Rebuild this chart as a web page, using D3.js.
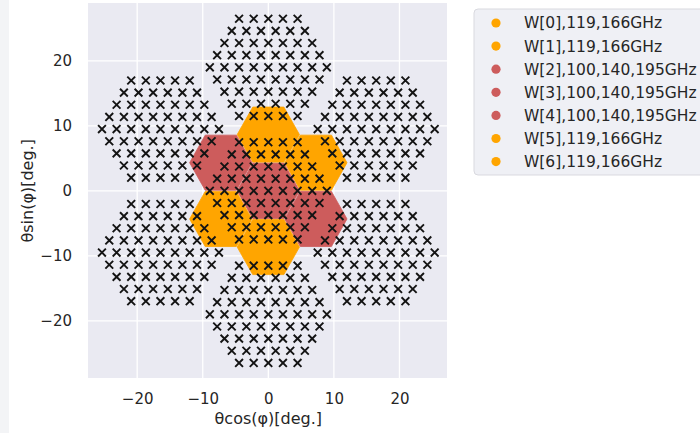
<!DOCTYPE html>
<html>
<head>
<meta charset="utf-8">
<script src="https://cdn.jsdelivr.net/npm/d3@7"></script>
<style>
  body { margin: 0; background: #ffffff; }
  svg { display: block; font-family: "DejaVu Sans", sans-serif; }
</style>
</head>
<body>
<div id="chart"></div>
<script>
// detector wafers (black x markers): centres, in degrees
const waferX = [0, 16.45, 16.45, 0, -16.45, -16.45, 0];
const waferY = [19, 9.5, -9.5, -19, -9.5, 9.5, 0];
const rowCounts = [5, 6, 7, 8, 9, 8, 7, 6, 5];
const pitchX = 2.23;
const pitchY = 1.87;

// coloured wafers (legend entries)
const bandNames = ["W[0],119,166GHz", "W[1],119,166GHz", "W[2],100,140,195GHz",
                   "W[3],100,140,195GHz", "W[4],100,140,195GHz", "W[5],119,166GHz", "W[6],119,166GHz"];
const bandColors = ["orange", "orange", "indianred", "indianred", "indianred", "orange", "orange"];
const bandX = [0, 7.25, -7.25, 0, 7.25, -7.25, 0];
const bandY = [8.65, 4.33, 4.33, 0, -4.33, -4.33, -8.65];
const hexR = 4.75;
const hexA = 4.24;

const xTicks = [-20, -10, 0, 10, 20];
const yTicks = [-20, -10, 0, 10, 20];

const width = 700, height = 433;
const plotLeft = 88, plotRight = 447, plotTop = 3, plotBottom = 378;
const textColor = "#262626";

let svg = d3.select("#chart")
    .append("svg")
    .attr("width", width)
    .attr("height", height);

// notebook strip at the left
svg.append("rect")
    .attr("x", 0).attr("y", 0)
    .attr("width", 9).attr("height", height)
    .style("fill", "#f3f4f6");

let x = d3.scaleLinear().domain([-27.5, 27.25]).range([plotLeft, plotRight]);
let y = d3.scaleLinear().domain([-28.8, 28.9]).range([plotBottom, plotTop]);

svg.append("rect")
    .attr("x", plotLeft).attr("y", plotTop)
    .attr("width", plotRight - plotLeft).attr("height", plotBottom - plotTop)
    .style("fill", "#eaeaf2");

// grid
svg.append("g").selectAll("line")
    .data(xTicks).enter().append("line")
    .attr("x1", d => x(d)).attr("x2", d => x(d))
    .attr("y1", plotTop).attr("y2", plotBottom)
    .style("stroke", "#ffffff").style("stroke-width", 1.3);
svg.append("g").selectAll("line")
    .data(yTicks).enter().append("line")
    .attr("y1", d => y(d)).attr("y2", d => y(d))
    .attr("x1", plotLeft).attr("x2", plotRight)
    .style("stroke", "#ffffff").style("stroke-width", 1.3);

// axes (labels only)
let xAxis = d3.axisBottom(x).tickValues(xTicks).tickSize(0).tickPadding(15);
let gx = svg.append("g")
    .attr("transform", "translate(0," + plotBottom + ")")
    .call(xAxis);
let yAxis = d3.axisLeft(y).tickValues(yTicks).tickSize(0).tickPadding(16);
let gy = svg.append("g")
    .attr("transform", "translate(" + plotLeft + ",0)")
    .call(yAxis);
[gx, gy].forEach(g => {
    g.select(".domain").remove();
    g.selectAll("text")
        .style("font-size", "15px")
        .style("fill", textColor)
        .style("font-family", "DejaVu Sans");
});

svg.append("text")
    .attr("x", x(0)).attr("y", 424)
    .attr("text-anchor", "middle")
    .style("font-size", "16px").style("fill", textColor)
    .text("θcos(φ)[deg.]");
svg.append("text")
    .attr("transform", "translate(27," + y(0) + ") rotate(-90)")
    .attr("text-anchor", "middle")
    .attr("dy", "0.35em")
    .style("font-size", "16px").style("fill", textColor)
    .text("θsin(φ)[deg.]");

// coloured hexagons
let hexLine = d3.line().curve(d3.curveLinearClosed);
function hexPoints(cx, cy) {
    const corners = [[hexR, 0], [hexR / 2, hexA], [-hexR / 2, hexA],
                     [-hexR, 0], [-hexR / 2, -hexA], [hexR / 2, -hexA]];
    return corners.map(c => [x(cx + c[0]), y(cy + c[1])]);
}
svg.append("g").selectAll("path")
    .data(bandNames).enter().append("path")
    .attr("d", (d, i) => hexLine(hexPoints(bandX[i], bandY[i])))
    .style("fill", (d, i) => bandColors[i])
    .style("stroke", (d, i) => bandColors[i])
    .style("stroke-width", 0.8)
    .style("stroke-linejoin", "round");

// detector positions
let detectors = [];
waferX.forEach((wx, w) => {
    rowCounts.forEach((n, r) => {
        const dy = (4 - r) * pitchY;
        for (let k = 0; k < n; k++) {
            detectors.push({ x: wx + (k - (n - 1) / 2) * pitchX, y: waferY[w] + dy });
        }
    });
});

const s = 3.9;
svg.append("g").selectAll("path")
    .data(detectors).enter().append("path")
    .attr("d", "M" + (-s) + "," + (-s) + "L" + s + "," + s + "M" + (-s) + "," + s + "L" + s + "," + (-s))
    .attr("transform", d => "translate(" + x(d.x) + "," + y(d.y) + ")")
    .style("stroke", "#141414")
    .style("stroke-width", 1.9)
    .style("fill", "none");

// legend
let legend = svg.append("g");
legend.append("rect")
    .attr("x", 474).attr("y", 9)
    .attr("width", 240).attr("height", 166)
    .attr("rx", 4)
    .style("fill", "#eff0f5")
    .style("stroke", "#d9d9df")
    .style("stroke-width", 1);
let items = legend.selectAll("g.item")
    .data(bandNames).enter().append("g")
    .attr("transform", (d, i) => "translate(0," + (23 + i * 23.1) + ")");
items.append("circle")
    .attr("cx", 496).attr("cy", 0).attr("r", 4.6)
    .style("fill", (d, i) => bandColors[i]);
items.append("text")
    .attr("x", 524).attr("dy", "0.35em")
    .style("font-size", "15.5px").style("fill", textColor)
    .text(d => d);
</script>
</body>
</html>
